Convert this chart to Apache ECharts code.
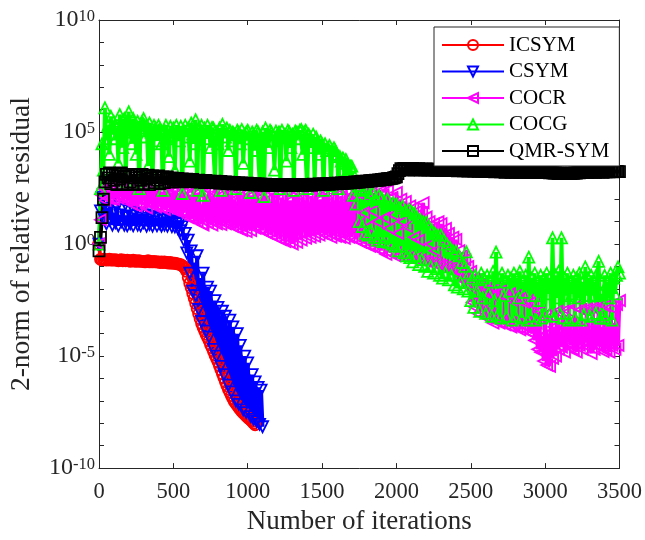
<!DOCTYPE html>
<html><head><meta charset="utf-8">
<script src="https://cdn.jsdelivr.net/npm/echarts@6/dist/echarts.min.js"></script>
<style>html,body{margin:0;padding:0;background:#fff}#chart{width:645px;height:540px}</style>
</head><body><div id="chart"></div>
<script>
// ---- data, one sample every 10 iterations ----
const iterationStep = 10;
const seriesNames = ['ICSYM', 'CSYM', 'COCR', 'COCG', 'QMR-SYM'];
const xTickValues = [0, 500, 1000, 1500, 2000, 2500, 3000, 3500];
const yLabelExponents = [-10, -5, 0, 5, 10];

// iterations 0..1050
const icsym = [
  1, 0.21, 0.2, 0.21, 0.2, 0.19, 0.2, 0.21, 0.19, 0.2,
  0.19, 0.2, 0.19, 0.18, 0.19, 0.2, 0.18, 0.19, 0.18, 0.19,
  0.18, 0.17, 0.18, 0.19, 0.17, 0.18, 0.17, 0.18, 0.17, 0.17,
  0.17, 0.16, 0.17, 0.18, 0.16, 0.17, 0.16, 0.17, 0.16, 0.16,
  0.16, 0.15, 0.16, 0.15, 0.16, 0.15, 0.15, 0.14, 0.15, 0.14,
  0.14, 0.14, 0.135, 0.13, 0.125, 0.12, 0.11, 0.095, 0.08, 0.06,
  0.032, 0.018, 0.011, 6.3e-3, 3.8e-3, 2.2e-3, 1.3e-3, 7.6e-4, 4.5e-4, 2.8e-4,
  1.9e-4, 1.3e-4, 9.3e-5, 6.7e-5, 4.8e-5, 3.2e-5, 2.3e-5, 1.6e-5, 1.1e-5, 7.9e-6,
  5.5e-6, 3.6e-6, 2.4e-6, 1.6e-6, 1.05e-6, 7e-7, 4.7e-7, 3.3e-7, 2.4e-7, 1.7e-7,
  1.24e-7, 9.5e-8, 7.6e-8, 6.2e-8, 5e-8, 4.1e-8, 3.4e-8, 2.9e-8, 2.5e-8, 2.1e-8,
  1.8e-8, 1.6e-8, 1.4e-8, 1.2e-8, 1.0e-8, 8.6e-9];

// iterations 0..1100
const csym = [
  1, 30, 120, 15, 60, 8, 40, 12, 70, 7,
  25, 9, 45, 6.5, 20, 10, 35, 7, 15, 6.5,
  30, 8, 18, 6.5, 25, 11, 7, 22, 6.5, 14,
  9, 20, 6.3, 12, 7.5, 17, 6.3, 10, 14, 6.5,
  15, 8, 6.3, 12, 7, 14, 6.3, 9, 11, 6,
  10, 5.8, 8, 5, 9, 4, 6, 1.5, 3, 0.4,
  1.5, 0.05, 0.5, 8e-3, 0.15, 5e-3, 0.3, 1.2e-3, 0.03, 3.5e-4,
  0.05, 2.5e-3, 1.3e-4, 0.012, 7e-5, 8e-3, 5e-4, 2e-5, 3e-3, 1e-5,
  1.5e-3, 1e-4, 3.5e-6, 1e-3, 1.5e-6, 6e-4, 3e-5, 5e-7, 4e-4, 2.5e-7,
  2e-4, 1e-5, 1e-7, 1e-4, 7e-8, 3e-5, 1e-6, 4e-8, 1e-5, 3e-8,
  5e-6, 3e-7, 2e-8, 1.5e-6, 1.5e-8, 7e-7, 1.2e-8, 4e-7, 9e-9, 3e-7,
  7e-9];

// iterations 0..3500
const cocr = [
  1, 12, 150, 300, 90, 250, 110, 350, 100, 200,
  100, 300, 160, 110, 400, 130, 250, 100, 320, 180,
  95, 280, 60, 90, 350, 50, 240, 95, 60, 150,
  85, 260, 40, 70, 320, 110, 60, 250, 45, 55,
  300, 80, 45, 220, 35, 50, 280, 40, 40, 200,
  32, 250, 30, 35, 180, 28, 300, 25, 25, 220,
  15, 160, 20, 14, 250, 30, 10, 200, 20, 8,
  7, 180, 15, 9, 250, 20, 7, 150, 12, 8,
  220, 12, 7.5, 160, 15, 8, 250, 25, 9, 180,
  6, 100, 12, 5, 220, 15, 4, 160, 10, 3.6,
  200, 8, 4, 150, 10, 5, 250, 12, 5, 120,
  4, 180, 20, 3, 100, 8, 2.5, 200, 15, 2,
  160, 6, 1.6, 120, 25, 1.3, 220, 10, 1.2, 90,
  1, 150, 20, 1.2, 200, 8, 1.5, 120, 30, 1.8,
  180, 6, 2, 140, 15, 2.2, 250, 10, 2.5, 100,
  3, 160, 25, 2.5, 200, 8, 2, 120, 12, 2.2,
  180, 15, 2, 140, 6, 1.8, 220, 10, 2, 120,
  2, 160, 20, 1.6, 200, 8, 1.2, 150, 25, 1,
  200, 6, 0.8, 180, 30, 0.7, 140, 10, 0.6, 220,
  0.5, 160, 15, 0.35, 250, 5, 0.4, 120, 20, 0.3,
  200, 3, 0.3, 100, 10, 0.28, 80, 6, 0.25, 50,
  0.25, 40, 2, 0.22, 30, 1.5, 0.2, 25, 70, 0.18,
  16, 0.16, 10, 1, 0.15, 8, 0.5, 0.14, 10, 0.12,
  8, 0.11, 1.5, 5, 0.1, 3, 0.6, 0.09, 2, 0.08,
  1.6, 0.07, 0.5, 0.05, 0.3, 0.03, 0.2, 0.02, 0.1, 0.012,
  0.06, 2.5e-3, 0.03, 1.5e-3, 0.02, 8e-4, 0.015, 1e-3, 0.01, 6e-4,
  8e-3, 5e-4, 0.012, 7e-4, 5e-3, 3e-4, 0.01, 4e-4, 6e-3, 3e-4,
  8e-3, 4e-4, 5e-3, 2.5e-4, 4e-3, 3.5e-4, 6e-3, 2e-4, 3e-3, 2.5e-4,
  5e-3, 2e-4, 3e-3, 1.5e-4, 4e-3, 2.5e-4, 2.5e-3, 2e-4, 3e-3, 1.2e-4,
  2.5e-3, 1e-4, 2e-3, 5e-5, 3e-4, 2e-5, 1e-3, 1.5e-5, 8e-5, 6e-6,
  7e-4, 4e-6, 1e-4, 3.5e-6, 6e-4, 8e-6, 2e-4, 1e-5, 1e-3, 2e-5,
  1.2e-4, 2.5e-5, 1e-3, 1.5e-5, 2e-4, 4e-5, 1e-3, 3e-5, 1.5e-4, 2e-5,
  1.6e-3, 1.5e-5, 1e-4, 3e-5, 1.2e-3, 2e-5, 2e-4, 4e-5, 1.3e-3, 2.5e-5,
  1.5e-4, 1.3e-5, 1.4e-3, 2e-5, 1e-4, 3e-5, 1.5e-3, 2.5e-5, 2e-4, 1.6e-5,
  1.7e-3, 2e-5, 1.5e-4, 1.5e-5, 1.5e-3, 3e-5, 1e-4, 2e-5, 2e-3, 3e-5,
  3e-3];

// iterations 0..3500
const cocg = [
  1, 300, 3e4, 2e3, 1.2e6, 5e4, 2e5, 1e4, 5e5, 8e4,
  3e5, 5e4, 1.5e5, 4e3, 6e5, 2e5, 2e4, 4e5, 600, 3e5,
  8e5, 1e5, 3e4, 4e5, 2e5, 1e4, 3e5, 300, 1.5e5, 3e5,
  4e5, 6e4, 2e5, 3e3, 2.5e5, 1e5, 500, 2e5, 1.5e5, 4e4,
  2e5, 1.5e5, 3e4, 250, 1.2e5, 2e5, 5e4, 8e3, 1.8e5, 1e5,
  1.5e5, 2e3, 2e5, 1e5, 4e4, 1.8e5, 180, 1.2e5, 2e5, 6e4,
  1.5e5, 5e3, 2.5e5, 8e4, 3e4, 3.5e5, 250, 1.5e5, 1e5, 2e5,
  150, 1.5e5, 5e4, 2e5, 1e5, 2e4, 1.6e5, 1.5e5, 700, 1e5,
  3e4, 1.5e5, 250, 2.2e5, 1e5, 6e4, 1.5e5, 1.5e4, 1.2e5, 4e4,
  1e5, 8e4, 300, 1.2e5, 1e5, 3e4, 1.3e5, 4e3, 8e4, 1e5,
  1.2e5, 5e4, 200, 1e5, 8e4, 1.5e4, 1.2e5, 1e5, 600, 6e4,
  1e5, 130, 1.5e5, 8e4, 2e4, 1.2e5, 1e5, 4e4, 2e3, 1.1e5,
  8e4, 1e5, 300, 1.2e5, 6e4, 8e4, 5e3, 1.2e5, 1e5, 2e4,
  8e4, 250, 1.1e5, 1e5, 5e4, 1.2e5, 1.3e5, 1e4, 1e5, 1.2e5,
  300, 8e4, 6e4, 2e4, 8e4, 500, 6e4, 4e4, 1e4, 4e4,
  3e4, 250, 3e4, 1.5e4, 2e4, 2.5e4, 400, 1.5e4, 2e4, 1.5e4,
  1e4, 300, 8e3, 5e3, 7e3, 1e3, 6e3, 4e3, 500, 3e3,
  3e3, 150, 1e3, 60, 400, 10, 300, 6, 250, 3,
  300, 2.5, 150, 4, 200, 2, 100, 1.5, 150, 2,
  120, 1.3, 80, 2, 100, 1.2, 60, 1, 70, 0.8,
  60, 0.5, 40, 0.8, 50, 0.4, 30, 0.3, 35, 0.25,
  30, 0.16, 25, 0.3, 15, 0.12, 12, 0.2, 10, 0.1,
  10, 0.06, 6, 0.1, 4, 0.05, 3, 0.08, 2.5, 0.04,
  2.5, 0.03, 1.5, 0.05, 1, 0.025, 0.7, 0.04, 0.5, 0.015,
  0.5, 0.012, 0.3, 0.02, 0.15, 0.01, 0.1, 0.45, 8e-3, 0.05,
  3e-3, 0.03, 1.5e-3, 0.04, 8e-3, 0.025, 1e-3, 0.05, 4e-3, 0.03,
  8e-4, 0.04, 6e-3, 0.02, 6e-4, 0.06, 3e-3, 0.44, 7e-4, 0.03,
  5e-4, 0.05, 5e-3, 0.02, 6e-4, 0.04, 8e-3, 0.03, 4e-4, 0.05,
  6e-4, 0.03, 4e-3, 0.06, 5e-4, 0.02, 7e-3, 0.04, 4e-4, 0.26,
  6e-4, 0.03, 5e-3, 0.05, 4e-4, 0.02, 3e-3, 0.04, 5e-4, 0.03,
  7e-4, 0.05, 6e-3, 0.03, 1e-3, 1.9, 6e-4, 0.04, 4e-3, 0.06,
  8e-4, 1.9, 5e-4, 0.03, 5e-3, 0.05, 4e-4, 0.02, 6e-3, 0.04,
  5e-4, 0.03, 4e-3, 0.05, 4e-4, 0.02, 7e-4, 0.095, 5e-3, 0.03,
  6e-4, 0.04, 5e-3, 0.02, 8e-4, 0.05, 0.17, 5e-4, 6e-3, 7e-4,
  0.04, 5e-4, 0.02, 4e-3, 0.05, 4e-4, 0.03, 6e-3, 0.04, 0.095,
  0.05];

// iterations 0..3500
const qmrsym = [
  0.5, 2, 15, 100, 600, 1300, 900, 1500, 500, 1200,
  700, 1400, 450, 1100, 800, 1500, 500, 1000, 1300, 450,
  1100, 600, 1300, 500, 900, 1200, 450, 1000, 700, 1300,
  500, 1100, 800, 1200, 450, 900, 1100, 550, 1000, 700,
  1100, 500, 900, 1000, 550, 850, 1000, 600, 800, 900,
  600, 800, 700, 850, 600, 750, 800, 620, 700, 780,
  640, 720, 600, 760, 650, 700, 620, 720, 580, 680,
  640, 560, 700, 600, 650, 560, 620, 580, 640, 540,
  600, 520, 620, 560, 540, 600, 500, 580, 520, 560,
  480, 560, 520, 500, 540, 470, 530, 490, 510, 460,
  520, 450, 500, 470, 440, 500, 460, 480, 430, 470,
  450, 420, 470, 430, 450, 410, 460, 430, 440, 420,
  450, 410, 440, 420, 460, 410, 430, 440, 410, 450,
  420, 440, 410, 450, 430, 420, 460, 430, 440, 450,
  420, 460, 440, 430, 470, 440, 460, 450, 480, 450,
  470, 490, 460, 500, 480, 470, 510, 490, 500, 520,
  490, 520, 500, 540, 510, 530, 550, 520, 560, 540,
  570, 550, 590, 570, 600, 580, 620, 600, 640, 620,
  650, 630, 670, 660, 690, 670, 710, 700, 730, 720,
  760, 740, 790, 780, 820, 810, 860, 850, 900, 940,
  1000, 1400, 1900, 2300, 2200, 2400, 2100, 2300, 2000, 2250,
  2150, 2350, 2050, 2250, 2100, 2300, 2000, 2200, 2150, 2050,
  2250, 2000, 2200, 2100, 2000, 2200, 2050, 1950, 2150, 2050,
  1950, 2150, 2000, 2100, 1900, 2050, 2000, 1900, 2050, 1950,
  2000, 1850, 2050, 1900, 1950, 1850, 2000, 1900, 1800, 1950,
  1850, 1950, 1800, 1900, 1850, 1750, 1900, 1800, 1850, 1750,
  1850, 1750, 1800, 1700, 1800, 1750, 1650, 1800, 1700, 1750,
  1650, 1750, 1700, 1600, 1750, 1650, 1700, 1600, 1650, 1700,
  1600, 1700, 1650, 1600, 1700, 1600, 1650, 1700, 1600, 1650,
  1700, 1600, 1650, 1600, 1700, 1550, 1650, 1600, 1550, 1650,
  1600, 1550, 1600, 1500, 1550, 1500, 1450, 1500, 1450, 1400,
  1450, 1400, 1450, 1380, 1420, 1380, 1450, 1400, 1450, 1420,
  1500, 1450, 1550, 1500, 1600, 1550, 1600, 1650, 1600, 1600,
  1650, 1600, 1700, 1650, 1600, 1700, 1650, 1700, 1650, 1600,
  1700, 1650, 1700, 1650, 1750, 1700, 1650, 1700, 1750, 1700,
  1700];

// ---- chart ----
const FONT = '"Liberation Serif", "Times New Roman", serif';
const AX = '#262626';
function toPoints(values) { return values.map((v, i) => [i * iterationStep, v]); }

const styles = [
  { data: icsym, color: '#ff0000', symbol: 'circle', rotate: 0 },
  { data: csym, color: '#0000ff', symbol: 'triangle', rotate: 180 },
  { data: cocr, color: '#ff00ff', symbol: 'triangle', rotate: 90 },
  { data: cocg, color: '#00ff00', symbol: 'triangle', rotate: 0 },
  { data: qmrsym, color: '#000000', symbol: 'rect', rotate: 0 }
];

const series = styles.map((s, k) => ({
  name: seriesNames[k],
  type: 'line',
  xAxisIndex: 0,
  yAxisIndex: 0,
  data: toPoints(s.data),
  symbol: s.symbol,
  symbolSize: 11,
  symbolRotate: s.rotate,
  showSymbol: true,
  lineStyle: { color: s.color, width: 3.8 },
  itemStyle: { color: 'none', borderColor: s.color, borderWidth: 1.8 },
  emphasis: { disabled: true },
  progressive: 0,
  animation: false
}));

const tickLine = { lineStyle: { color: AX, width: 1 } };

const option = {
  animation: false,
  backgroundColor: '#ffffff',
  grid: { left: 96.5, right: 24, top: 17, bottom: 67.5, containLabel: false },
  legend: {
    orient: 'vertical', left: 434, top: 27,
    padding: [7.5, 10, 4.5, 7],
    itemWidth: 62, itemHeight: 12.5, itemGap: 5.5,
    lineStyle: { width: 2 },
    backgroundColor: '#ffffff', borderColor: AX, borderWidth: 1, borderRadius: 0,
    textStyle: { fontFamily: FONT, fontSize: 21, color: '#000', lineHeight: 21 },
    data: seriesNames, selectedMode: false
  },
  xAxis: [
    {
      type: 'value', min: xTickValues[0], max: xTickValues[xTickValues.length - 1], interval: 500,
      position: 'bottom',
      axisLine: { show: true, onZero: false, lineStyle: { color: AX, width: 1 } },
      axisTick: Object.assign({ inside: true, length: 5 }, tickLine),
      axisLabel: { fontFamily: FONT, fontSize: 22.5, color: AX, margin: 12, formatter: v => String(v) },
      splitLine: { show: false },
      name: 'Number of iterations', nameLocation: 'middle', nameGap: 38,
      nameTextStyle: { fontFamily: FONT, fontSize: 27, color: AX }
    },
    {
      type: 'value', min: xTickValues[0], max: xTickValues[xTickValues.length - 1], interval: 500,
      position: 'top',
      axisLine: { show: true, onZero: false, lineStyle: { color: AX, width: 1 } },
      axisTick: Object.assign({ inside: true, length: 5 }, tickLine),
      axisLabel: { show: false },
      splitLine: { show: false }
    }
  ],
  yAxis: [
    {
      type: 'log', logBase: 10, min: 1e-10, max: 1e10, position: 'left',
      axisLine: { show: true, onZero: false, lineStyle: { color: AX, width: 1 } },
      axisTick: { show: false }, axisLabel: { show: false }, splitLine: { show: false },
      name: '2-norm of relative residual', nameLocation: 'middle', nameGap: 63,
      nameTextStyle: { fontFamily: FONT, fontSize: 27.5, color: AX }
    },
    {
      type: 'value', min: -10, max: 10, interval: 1, position: 'left',
      axisLine: { show: false, onZero: false },
      axisTick: Object.assign({ inside: true, length: 5 }, tickLine),
      axisLabel: {
        margin: 4,
        formatter: v => yLabelExponents.indexOf(v) >= 0 ? '{b|10}{s|' + v + '}' : '',
        rich: {
          b: { fontFamily: FONT, fontSize: 24, color: AX, lineHeight: 24, verticalAlign: 'bottom', padding: [8, 0, 0, 0] },
          s: { fontFamily: FONT, fontSize: 16.5, color: AX, lineHeight: 17, verticalAlign: 'top' }
        }
      },
      splitLine: { show: false }
    },
    {
      type: 'value', min: -10, max: 10, interval: 1, position: 'right',
      axisLine: { show: true, onZero: false, lineStyle: { color: AX, width: 1 } },
      axisTick: Object.assign({ inside: true, length: 5 }, tickLine),
      axisLabel: { show: false }, splitLine: { show: false }
    }
  ],
  series: series
};

const chart = echarts.init(document.getElementById('chart'), null, { renderer: 'canvas' });
chart.setOption(option);
</script>
</body></html>
